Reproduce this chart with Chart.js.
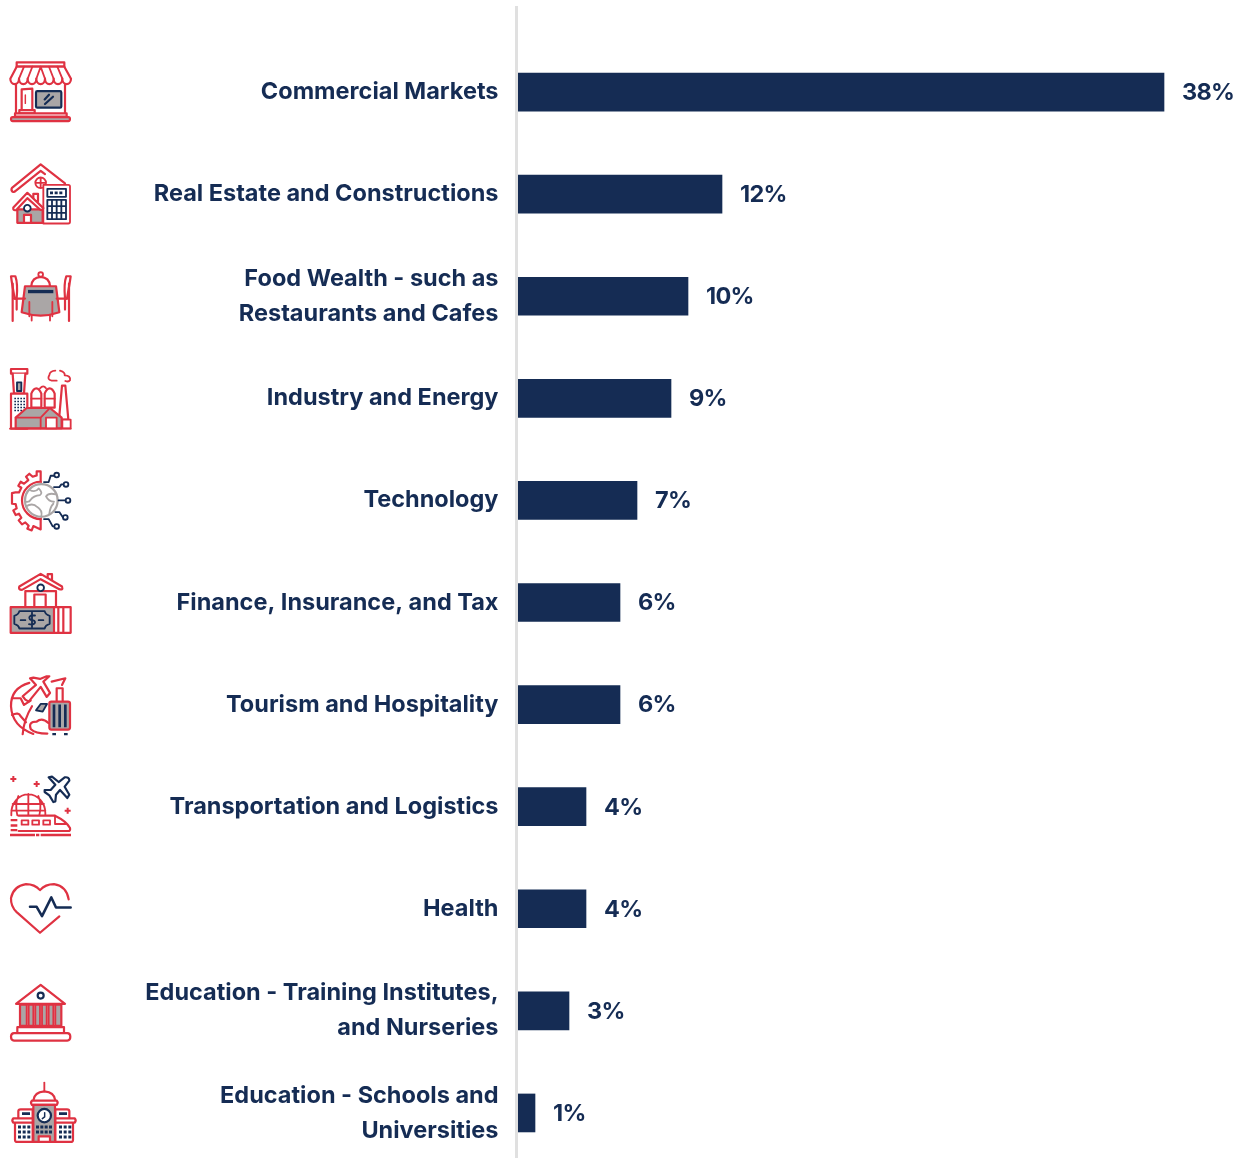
<!DOCTYPE html>
<html>
<head>
<meta charset="utf-8">
<title>Sectors</title>
<script src="https://cdn.jsdelivr.net/npm/chart.js@4"></script>
<style>
  html, body { margin: 0; padding: 0; background: #fff; overflow: hidden; }
  #wrap { width: 1247px; height: 1158px; overflow: hidden; }
  canvas { display: block; }
</style>
</head>
<body>
<div id="wrap"><canvas id="chart" width="1247" height="1170"></canvas></div>
<script>
"use strict";

const categories = [
  "Commercial Markets",
  "Real Estate and Constructions",
  ["Food Wealth - such as", "Restaurants and Cafes"],
  "Industry and Energy",
  "Technology",
  "Finance, Insurance, and Tax",
  "Tourism and Hospitality",
  "Transportation and Logistics",
  "Health",
  ["Education - Training Institutes,", "and Nurseries"],
  ["Education - Schools and", "Universities"]
];
const shares = [38, 12, 10, 9, 7, 6, 6, 4, 4, 3, 1];

const NAVY = "#152c54";
const RED = "#df3242";
const GREY = "#aaa6a6";
const WHITE = "#fff";
const FONT = "Inter, sans-serif";
const FONT_SIZE = 23.5;

// small helpers for the pictograms, coordinates are 3x pixels
function rect(x, y, w, h) { return `M${x} ${y}h${w}v${h}h${-w}Z `; }
function circle(x, y, r) { return `M${x - r} ${y}a${r} ${r} 0 1 0 ${2 * r} 0a${r} ${r} 0 1 0 ${-2 * r} 0Z `; }
function dots(x, y, nx, ny, dx, dy, w, h) {
  let s = "";
  for (let i = 0; i < nx; i++) for (let j = 0; j < ny; j++) s += rect(x + i * dx, y + j * dy, w, h);
  return s;
}
function plus(x, y) { return rect(x - 3, y - 9, 6, 18) + rect(x - 9, y - 3, 18, 6); }

// [zero y of the icon, layers: fill, stroke, line width, path]
const icons = [
  [126, [
    [WHITE, RED, 6, rect(50, 37, 143, 13)],
    [WHITE, RED, 6, "M50 50L31 86a13 16 0 0 0 26 0a13 16 0 0 0 26 0a13 16 0 0 0 26 0a13 16 0 0 0 26 0a13 16 0 0 0 26 0a13 16 0 0 0 26 0a13 16 0 0 0 26 0L193 50Z"],
    [null, RED, 5, "M72 50L57 86M97 50L83 86M122 50L109 86M122 50L135 86M147 50L161 86M172 50L187 86"],
    [null, RED, 6, "M48 104V190M195 104V190"],
    [WHITE, RED, 6, "M65 180V118L97 116V180"],
    [null, RED, 4, "M76 135V160"],
    [GREY, NAVY, 6, "M112 123H180Q184 123 184 127V169Q184 173 180 173H112Q108 173 108 169V127Q108 123 112 123Z"],
    [null, NAVY, 6, "M134 148L147 134M135 162L159 140"],
    [WHITE, RED, 6, rect(58, 180, 46, 10)],
    [WHITE, RED, 6, rect(45, 190, 155, 10)],
    [GREY, RED, 6, "M38 201H205Q210 201 210 207Q210 213 205 213H38Q33 213 33 207Q33 201 38 201Z"]
  ]],
  [432, [
    [null, RED, 6, "M195 400L122 343L36 413Q32 420 38 425Q43 427 47 422L122 362L135 372"],
    [WHITE, RED, 5, circle(122, 398, 16) + "M106 398H138M122 382V414"],
    [WHITE, RED, 5, "M130 404H205Q210 404 210 409V515Q210 520 205 520H130Z"],
    [WHITE, NAVY, 5, rect(142, 416, 56, 24)],
    [NAVY, null, 0, dots(150, 424, 3, 1, 14, 0, 9, 8)],
    [WHITE, NAVY, 5, rect(142, 449, 56, 58) + "M156 449V507M170 449V507M184 449V507M142 468H198M142 488H198"],
    [WHITE, RED, 6, rect(100, 431, 14, 22)],
    [GREY, RED, 6, "M52 478H128V518H52Z"],
    [WHITE, RED, 6, "M40 472L82 428L130 474Q128 482 120 478L82 444L48 480Q38 482 40 472Z"],
    [WHITE, NAVY, 5, circle(82, 474, 10)],
    [WHITE, RED, 6, rect(72, 494, 21, 24)]
  ]],
  [738, [
    [WHITE, RED, 5, circle(122, 673, 7)],
    [WHITE, RED, 6, "M94 707Q96 682 122 680Q148 682 150 707"],
    [GREY, RED, 6, "M75 708H168L178 786Q122 806 65 786Z"],
    [NAVY, null, 0, rect(84, 719, 76, 10)],
    [null, RED, 5, "M88 755V798M157 755V798M95 796V811M150 796V811"],
    [WHITE, RED, 6, "M33 678H46Q54 700 50 745H44Q36 700 33 678Z"],
    [null, RED, 6, "M38 700L38 812M44 745H75M50 745V778"],
    [WHITE, RED, 6, "M212 678H199Q191 700 195 745H201Q209 700 212 678Z"],
    [null, RED, 6, "M207 700L207 812M201 745H170M195 745V778"]
  ]],
  [114, [
    [WHITE, RED, 6, rect(33, 26, 49, 14)],
    [WHITE, RED, 6, "M38 40L42 100H72L76 40"],
    [GREY, NAVY, 5, rect(51, 66, 13, 26)],
    [WHITE, RED, 6, rect(33, 100, 49, 105)],
    [NAVY, null, 0, dots(43, 112, 4, 5, 9, 9, 5, 5)],
    [WHITE, RED, 6, "M94 142V100Q100 84 109 84Q118 84 124 100V142Z"],
    [WHITE, RED, 6, "M134 142V100Q140 84 149 84Q158 84 164 100V142Z"],
    [null, RED, 5, "M94 115H124M134 115H164M120 84Q130 72 138 84"],
    [WHITE, RED, 6, "M186 76H196L205 178H177Z"],
    [null, RED, 5, "M170 61H155Q140 58 148 44Q150 32 166 31M180 31Q196 36 194 45Q213 46 210 60Q206 66 196 62"],
    [GREY, RED, 6, "M47 172L80 143H150L185 172V204H47Z"],
    [null, RED, 5, "M47 172H122V204M122 172L150 143"],
    [WHITE, RED, 5, rect(138, 172, 32, 32)],
    [WHITE, RED, 5, rect(187, 178, 25, 26)],
    [null, RED, 5, "M30 205H212"]
  ]],
  [420, [
    [WHITE, RED, 6, "M122 333H110V345L98 349L88 340L78 349L85 359L72 370L62 364L55 376L64 382L57 396L46 396L36 398V415V430L47 431L50 444L40 450L47 464L57 460L64 472L56 480L66 492L76 486L86 496L82 505L95 510L100 497L122 507Z"],
    [WHITE, RED, 6, "M122 364A56 56 0 0 0 122 476"],
    [WHITE, GREY, 6, circle(124, 420, 49)],
    [null, GREY, 5, "M88 388Q106 398 116 384Q130 398 120 404Q100 406 92 418Q88 426 78 424M168 402Q146 396 138 408Q146 424 162 424M78 438Q98 426 112 440Q128 450 124 468M160 430Q150 440 148 460"],
    [null, NAVY, 5, "M132 365H146L152 346H162M162 380H178L184 372H190M176 420H196M166 455H178L188 470H192M132 476H146L158 498H162"],
    [WHITE, NAVY, 5, circle(170, 344, 7) + circle(198, 372, 7) + circle(204, 420, 7) + circle(196, 471, 7) + circle(170, 498, 7)]
  ]],
  [726, [
    [WHITE, RED, 6, rect(143, 641, 13, 18)],
    [WHITE, RED, 6, "M76 692V740H168V692Z"],
    [WHITE, RED, 6, "M58 678L122 640L186 678Q190 690 178 686L122 656L66 688Q54 688 58 678Z"],
    [WHITE, NAVY, 5, circle(122, 682, 10)],
    [WHITE, RED, 6, rect(103, 702, 34, 38)],
    [WHITE, RED, 6, rect(160, 740, 52, 77) + "M175 740V817M190 740V817"],
    [GREY, RED, 6, rect(32, 740, 130, 77)],
    [null, NAVY, 5, "M58 752H134Q136 762 149 766V790Q136 794 134 804H58Q56 794 43 790V766Q56 762 58 752Z"],
    [null, NAVY, 5, "M105 765Q92 762 88 770Q88 778 96 779Q106 780 105 787Q100 795 87 791M96 756V800M62 779H76M116 779H130"]
  ]],
  [117, [
    [null, RED, 6, "M88 52Q32 68 33 122Q36 182 100 205M40 98H62L72 118L92 105M68 206Q72 160 96 122M36 148Q56 138 62 152L78 170M145 172Q126 154 110 168Q84 168 92 190Q106 204 142 204"],
    [WHITE, RED, 6, "M90 38L108 58L68 92L76 102L86 108L122 64L140 94L150 82L130 48L148 32L140 32L120 40L100 36Z"],
    [GREY, NAVY, 5, "M108 134L122 115H141L128 138Z"],
    [null, RED, 6, "M155 48L196 38L186 58M170 108V68H188V108"],
    [GREY, RED, 6, "M154 108H204Q210 108 210 114V186Q210 192 204 192H154Q148 192 148 186V114Q148 108 154 108Z"],
    [NAVY, null, 0, dots(158, 117, 3, 1, 17, 0, 8, 68)],
    [NAVY, null, 0, rect(157, 202, 11, 7) + rect(192, 202, 11, 7)]
  ]],
  [426, [
    [RED, null, 0, plus(40, 343) + plus(110, 358) + plus(203, 438)],
    [WHITE, NAVY, 6, "M146 338L156 336L176 352L194 338Q208 336 208 348L194 366L208 390L202 400L180 376L168 390L166 410L160 412L148 392L134 382V376L152 376L166 360Z"],
    [null, RED, 5, "M34 445A50 55 0 0 1 136 445V452M34 445V452M85 388V452M55 394Q44 420 52 452M115 394Q126 420 118 452M38 418H132M34 438H136"],
    [WHITE, RED, 6, "M56 453H165Q200 470 210 490Q212 499 204 499H56"],
    [null, RED, 5, rect(65, 467, 20, 13) + rect(97, 467, 20, 13) + rect(130, 467, 20, 13) + "M165 453V478H198"],
    [RED, null, 0, rect(32, 463, 20, 7) + rect(32, 479, 20, 7) + rect(32, 493, 20, 7)],
    [RED, null, 0, rect(30, 507, 75, 8) + rect(108, 507, 10, 8) + rect(122, 507, 91, 8)]
  ]],
  [732, [
    [null, RED, 6, "M178 755L120 804L50 742Q32 725 33 700Q40 664 78 658Q104 658 120 676Q136 658 162 658Q200 664 206 704"],
    [null, NAVY, 7, "M90 726H110L126 754L154 698L168 728H212"]
  ]],
  [123, [
    [WHITE, RED, 6, "M48 102L122 45L195 102Z"],
    [WHITE, NAVY, 6, circle(122, 77, 9)],
    [GREY, RED, 6, "M60 104H184V168H60Z"],
    [WHITE, RED, 5, rect(80, 104, 6, 64) + rect(100, 104, 6, 64) + rect(120, 104, 6, 64) + rect(140, 104, 6, 64) + rect(160, 104, 6, 64)],
    [WHITE, RED, 6, "M52 190V172H192V190"],
    [WHITE, RED, 6, "M42 190H202Q211 190 211 201Q211 212 202 212H42Q33 212 33 201Q33 190 42 190Z"]
  ]],
  [429, [
    [null, RED, 5, "M133 338V368"],
    [WHITE, RED, 6, "M100 392Q102 366 133 364Q164 366 166 392"],
    [WHITE, RED, 6, "M96 392H170Q176 398 170 405H96Q90 398 96 392Z"],
    [WHITE, RED, 6, "M55 445V424Q55 418 62 418H98V445M208 445V424Q208 418 201 418H166V445"],
    [NAVY, null, 0, rect(66, 427, 24, 8) + rect(177, 427, 24, 8)],
    [WHITE, RED, 6, "M45 458V510Q45 516 52 516H98V458M219 458V510Q219 516 212 516H166V458"],
    [WHITE, RED, 6, "M40 445H98V458H40Q34 452 40 445ZM224 445H166V458H224Q230 452 224 445Z"],
    [NAVY, null, 0, dots(54, 467, 3, 3, 14, 15, 9, 9) + dots(177, 467, 3, 3, 14, 15, 9, 9)],
    [GREY, RED, 6, rect(100, 405, 65, 111)],
    [WHITE, NAVY, 6, circle(133, 437, 20)],
    [null, NAVY, 4, "M134 428V441L127 446"],
    [NAVY, null, 0, dots(108, 467, 4, 2, 13, 15, 9, 9)],
    [WHITE, RED, 6, rect(116, 499, 34, 17)]
  ]]
];

const axisRule = {
  id: "axisRule",
  beforeDatasetsDraw(chart) {
    const ctx = chart.ctx;
    ctx.save();
    ctx.fillStyle = "#e0e0e0";
    ctx.fillRect(chart.chartArea.left - 3, 6, 3, chart.height);
    ctx.restore();
  }
};

const valueLabels = {
  id: "valueLabels",
  afterDatasetsDraw(chart) {
    const ctx = chart.ctx;
    const bars = chart.getDatasetMeta(0).data;
    ctx.save();
    ctx.font = "700 " + FONT_SIZE + "px " + FONT;
    ctx.letterSpacing = "-0.7px";
    ctx.fillStyle = NAVY;
    ctx.textBaseline = "middle";
    bars.forEach((bar, i) => {
      ctx.fillText(shares[i] + "%", bar.x + 18, bar.y + 0.8);
    });
    ctx.restore();
  }
};

const iconColumn = {
  id: "iconColumn",
  afterDraw(chart) {
    const ctx = chart.ctx;
    const y = chart.scales.y;
    icons.forEach((icon, i) => {
      ctx.save();
      ctx.translate(0, y.getPixelForValue(i));
      ctx.scale(1 / 3, 1 / 3);
      ctx.translate(0, -icon[0]);
      ctx.lineJoin = "round";
      ctx.lineCap = "round";
      icon[1].forEach(layer => {
        const path = new Path2D(layer[3]);
        if (layer[0]) {
          ctx.fillStyle = layer[0];
          ctx.fill(path);
        }
        if (layer[1]) {
          ctx.strokeStyle = layer[1];
          ctx.lineWidth = layer[2] * 1.1;
          ctx.stroke(path);
        }
      });
      ctx.restore();
    });
  }
};

new Chart(document.getElementById("chart"), {
  type: "bar",
  data: {
    labels: categories,
    datasets: [{
      data: shares,
      backgroundColor: NAVY,
      barThickness: 38,
      borderWidth: 0
    }]
  },
  options: {
    indexAxis: "y",
    responsive: false,
    animation: false,
    layout: { padding: { top: 41, bottom: 6, right: 49 } },
    plugins: { legend: { display: false }, tooltip: { enabled: false } },
    scales: {
      x: { display: false, min: 0, max: 40 },
      y: {
        afterFit(scale) {
          scale.width = 518;
          // long labels at the ends should not push the plot area in
          scale.paddingTop = 0;
          scale.paddingBottom = 0;
        },
        border: { display: false },
        grid: { display: false, drawTicks: false },
        ticks: {
          padding: 19.5,
          color: NAVY,
          autoSkip: false,
          font: { family: FONT, size: FONT_SIZE, weight: "700", lineHeight: "35px" }
        }
      }
    }
  },
  plugins: [axisRule, valueLabels, iconColumn]
});
</script>
</body>
</html>
